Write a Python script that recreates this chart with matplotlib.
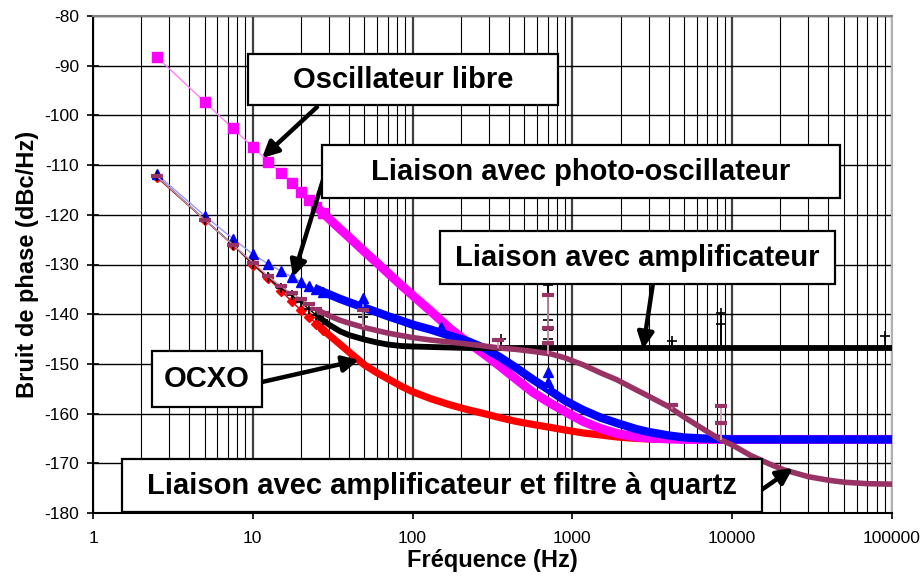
import matplotlib
matplotlib.use("Agg")
from matplotlib import pyplot as plt
from matplotlib.patches import Rectangle
from matplotlib.ticker import FixedLocator, FixedFormatter, LogLocator, NullFormatter
import numpy as np

plt.rcParams['font.family'] = ['Liberation Sans', 'DejaVu Sans']
plt.rcParams['axes.unicode_minus'] = False

# frequencies (Hz) shared by all curves
freq = [2.5, 5, 7.5, 10, 12.5, 15, 17.5, 20, 22.5, 25, 27.5,
        30, 35, 40, 50, 60, 70, 85, 100,
        130, 170, 220, 280, 350, 450, 570, 735, 900,
        1170, 1500, 1900, 2500, 3000, 4000, 5000, 6500, 8400,
        10000, 13000, 17000, 21000, 30000, 40000, 50000, 70000, 100000]

libre = [-88.2, -97.3, -102.6, -106.4, -109.3, -111.6, -113.6, -115.4, -117.0, -118.4, -119.6,
         -120.8, -122.8, -124.5, -127.4, -129.7, -131.7, -134.2, -136.2,
         -139.4, -142.8, -145.6, -148.0, -150.4, -153.2, -155.8, -158.0, -159.6,
         -161.6, -163.0, -164.0, -164.7, -164.9, -165.1, -165.2, -165.2, -165.2,
         -165.2, -165.2, -165.2, -165.2, -165.2, -165.2, -165.2, -165.2, -165.2]

photo = [-111.8, -120.2, -124.8, -127.9, -129.9, -131.3, -132.5, -133.5, -134.3, -134.9, -135.5,
         -136.0, -136.9, -137.6, -138.7, -139.6, -140.4, -141.3, -142.1,
         -143.1, -144.3, -145.4, -146.8, -148.6, -150.9, -153.2, -155.5, -157.4,
         -159.3, -160.8, -161.9, -163.1, -163.7, -164.4, -164.8, -165.0, -165.1,
         -165.2, -165.2, -165.2, -165.2, -165.2, -165.2, -165.2, -165.2, -165.2]

ocxo = [-112.4, -121.0, -126.0, -130.0, -132.8, -135.3, -137.4, -139.2, -140.6, -141.9, -143.1,
        -144.2, -146.0, -147.6, -150.2, -151.8, -153.0, -154.5, -155.6,
        -157.0, -158.2, -159.2, -160.0, -160.8, -161.6, -162.2, -162.8, -163.3,
        -163.9, -164.3, -164.7, -165.0, -165.1, -165.2, -165.2, -165.2, -165.2,
        -165.2, -165.2, -165.2, -165.2, -165.2, -165.2, -165.2, -165.2, -165.2]

ampli = [-112.2, -121.0, -126.0, -129.8, -132.6, -134.8, -136.2, -137.6, -139.0, -140.2, -141.2,
         -142.1, -143.4, -144.2, -145.1, -145.7, -146.1, -146.4, -146.5,
         -146.6, -146.7, -146.8, -146.8, -146.8, -146.8, -146.8, -146.8, -146.8,
         -146.8, -146.8, -146.8, -146.8, -146.8, -146.8, -146.8, -146.8, -146.8,
         -146.8, -146.8, -146.8, -146.8, -146.8, -146.8, -146.8, -146.8, -146.8]

quartz = [-112.2, -121.0, -126.0, -129.6, -132.4, -134.4, -135.8, -136.9, -138.0, -139.0, -139.7,
          -140.3, -141.2, -141.8, -142.7, -143.3, -143.8, -144.3, -144.7,
          -145.2, -145.6, -146.0, -146.4, -146.8, -147.1, -147.5, -148.0, -148.8,
          -150.2, -151.8, -153.2, -155.2, -156.5, -158.6, -160.7, -163.0, -165.2,
          -166.3, -168.4, -170.1, -171.3, -172.7, -173.4, -173.8, -174.1, -174.2]

# isolated glitch points
photo_gf = [49, 150, 705, 705]
photo_gv = [-136.8, -142.6, -151.6, -153.6]
ampli_gf = [49, 355, 705, 705, 705, 705, 4200, 8500, 8500, 90000]
ampli_gv = [-140.5, -145.0, -134.2, -141.2, -143.2, -145.0, -145.4, -139.8, -142.0, -144.4]
quartz_gf = [49, 344, 705, 705, 705, 4200, 8500, 8500]
quartz_gv = [-139.2, -145.2, -136.1, -142.8, -145.8, -158.3, -158.5, -161.9]

W, H = 924, 581
fig = plt.figure(figsize=(W / 100, H / 100), dpi=100)
ax = fig.add_axes([93 / W, 1 - 513 / H, (892 - 93) / W, (513 - 16) / H])

n0 = 10  # index where the markers merge into a band

def curve(v, col, light, marker, ms, band, z, mew=1.0):
    ax.plot(freq, v, color=light, lw=1, zorder=z)
    ax.plot(freq[n0 - 1:], v[n0 - 1:], color=col, lw=band, zorder=z, solid_capstyle='butt')
    ax.plot(freq[:n0 + 1], v[:n0 + 1], ls='none', marker=marker, ms=ms, color=col, mew=mew, zorder=z)

def glitch(gf, gv, v, col, light, marker, ms, z, mew=1.0):
    base = np.interp(np.log10(gf), np.log10(freq), v)
    ax.vlines(gf, gv, base, color=light, lw=1.2, zorder=z)
    ax.plot(gf, gv, ls='none', marker=marker, ms=ms, mew=mew, color=col, zorder=z)

curve(ocxo, '#ff0000', '#cc0000', 'D', 5, 5.2, 3)
curve(libre, '#ff00ff', '#ff80ff', 's', 6.5, 6.5, 4)
curve(photo, '#0000ff', '#9999ff', '^', 7, 6.0, 5)
curve(ampli, '#000000', '#000000', '+', 7, 4.2, 6, mew=1.2)
curve(quartz, '#993366', '#cc99b3', '_', 8, 4.0, 7, mew=3)

glitch(photo_gf, photo_gv, photo, '#0000ff', '#9999ff', '^', 7, 5)
glitch(ampli_gf, ampli_gv, ampli, 'black', 'black', '+', 7, 6, mew=1.2)
glitch(quartz_gf, quartz_gv, quartz, '#993366', '#cc99b3', '_', 8, 7, mew=3)

ax.set_xscale('log')
ax.set_xlim(1, 100000)
ax.set_ylim(-180, -80)
ax.set_yticks(range(-180, -79, 10))
ax.xaxis.set_major_locator(FixedLocator([1, 10, 100, 1000, 10000, 100000]))
ax.xaxis.set_major_formatter(FixedFormatter(['1', '10', '100', '1000', '10000', '100000']))
ax.xaxis.set_minor_locator(LogLocator(base=10, subs=range(2, 10), numticks=20))
ax.xaxis.set_minor_formatter(NullFormatter())
ax.tick_params(axis='x', which='minor', length=0)
ax.tick_params(axis='both', which='major', direction='inout', length=8, labelsize=12.5, width=1.2)
ax.tick_params(axis='x', which='major', pad=9)
ax.tick_params(axis='y', which='major', pad=6)

ax.grid(True, which='major', axis='x', color='#404040', lw=1.6)
ax.grid(True, which='minor', axis='x', color='black', lw=0.8)
ax.grid(True, which='major', axis='y', color='black', lw=1.0)
ax.set_axisbelow(True)

ax.spines['left'].set_linewidth(1.5)
ax.spines['bottom'].set_linewidth(1.5)
ax.spines['top'].set_color('#808080')
ax.spines['top'].set_linewidth(1.5)
ax.spines['right'].set_color('#b0b0b0')
ax.spines['right'].set_linewidth(1.5)

ax.set_xlabel('Fréquence (Hz)', fontsize=17, fontweight='bold', labelpad=2)
ax.set_ylabel('Bruit de phase (dBc/Hz)', fontsize=17, fontweight='bold', labelpad=4)

# annotation boxes (pixel positions, top-left origin)
boxes = [
    ((248, 54, 558, 105), 'Oscillateur libre'),
    ((322, 145, 840, 198), 'Liaison avec photo-oscillateur'),
    ((440, 231, 835, 284), 'Liaison avec amplificateur'),
    ((152, 351, 262, 407), 'OCXO'),
    ((122, 459, 762, 512), 'Liaison avec amplificateur et filtre à quartz'),
]
arrows = [
    ((317, 107), (262, 158)),
    ((323, 180), (293, 277)),
    ((653, 283), (643, 349)),
    ((262, 382), (359, 360)),
    ((757, 493), (793, 468)),
]

for (tx, ty), (hx, hy) in arrows:
    ax.annotate('', xy=(hx / W, 1 - hy / H), xycoords='figure fraction',
                xytext=(tx / W, 1 - ty / H), textcoords='figure fraction',
                arrowprops=dict(arrowstyle='-|>', color='black', lw=3.2,
                                mutation_scale=24, shrinkA=0, shrinkB=0),
                zorder=9)

for (x0, y0, x1, y1), label in boxes:
    ax.add_patch(Rectangle((x0 / W, 1 - y1 / H), (x1 - x0) / W, (y1 - y0) / H,
                           transform=fig.transFigure, facecolor='white',
                           edgecolor='black', lw=1.6, clip_on=False, zorder=10))
    ax.text((x0 + x1) / 2 / W, 1 - (y0 + y1) / 2 / H, label, transform=fig.transFigure,
            ha='center', va='center', fontsize=21, fontweight='bold', zorder=11)

plt.savefig('out.png', dpi=100)
